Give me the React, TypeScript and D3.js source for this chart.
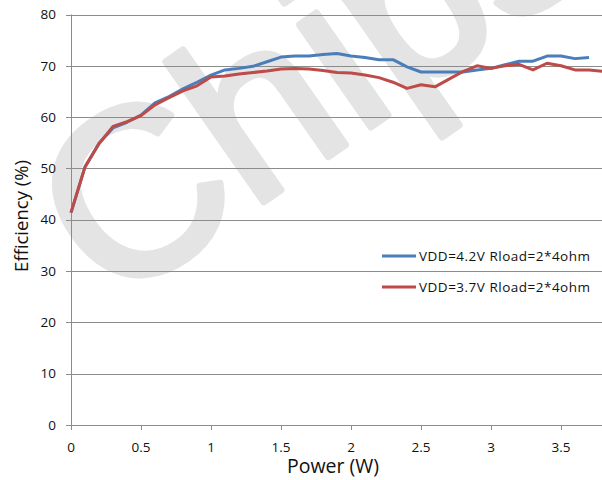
import React from "react";
import * as d3 from "d3";

const power = [0, 0.1, 0.2, 0.3, 0.4, 0.5, 0.6, 0.7, 0.8, 0.9, 1.0, 1.1, 1.2, 1.3, 1.4, 1.5, 1.6, 1.7, 1.8, 1.9, 2.0, 2.1, 2.2, 2.3, 2.4, 2.5, 2.6, 2.7, 2.8, 2.9, 3.0, 3.1, 3.2, 3.3, 3.4, 3.5, 3.6, 3.7, 3.8];

const eff42 = [41.4, 50.3, 54.9, 57.9, 59.0, 60.4, 62.8, 64.0, 65.5, 66.8, 68.2, 69.2, 69.5, 69.9, 70.8, 71.7, 71.9, 71.9, 72.2, 72.4, 71.9, 71.6, 71.2, 71.2, 69.8, 68.8, 68.8, 68.8, 68.8, 69.2, 69.5, 70.2, 70.9, 70.9, 71.9, 71.9, 71.4, 71.6];

const eff37 = [41.4, 50.3, 54.8, 58.2, 59.1, 60.3, 62.4, 63.8, 65.1, 66.1, 67.8, 68.0, 68.4, 68.7, 69.0, 69.4, 69.5, 69.4, 69.1, 68.7, 68.6, 68.2, 67.7, 66.8, 65.6, 66.3, 65.9, 67.4, 68.9, 70.0, 69.5, 70.0, 70.3, 69.2, 70.5, 70.0, 69.2, 69.2, 68.9];

const xTicks = [0, 0.5, 1, 1.5, 2, 2.5, 3, 3.5];
const yTicks = [0, 10, 20, 30, 40, 50, 60, 70, 80];

const seriesNames = ["VDD=4.2V Rload=2*4ohm", "VDD=3.7V Rload=2*4ohm"];
const seriesColors = ["#4a7ebb", "#be4b48"];

const W = 602;
const H = 480;

export default function App() {
  const x = d3.scaleLinear().domain([0, 3.8]).range([71, 603]);
  const y = d3.scaleLinear().domain([0, 80]).range([425, 14.5]);
  const font = "'Open Sans', 'Noto Sans', sans-serif";
  const grid = "#8c8c8c";

  const mk = (vals: number[]) =>
    d3
      .line<number>()
      .x((_, i) => x(power[i]))
      .y((d) => y(d))(vals) || "";

  const series = [eff42, eff37];

  return (
    <div style={{ position: "absolute", left: 0, top: 0, width: W, height: H, background: "#fff" }}>
      <svg width={W} height={H} style={{ display: "block" }}>
        <rect x={0} y={0} width={W} height={H} fill="#fff" />
        <text
          transform="translate(111,309) rotate(-35)"
          fontFamily="'Liberation Sans', Arial, sans-serif"
          fontSize={236}
          fill="#e4e4e4"
          stroke="#e4e4e4"
          strokeWidth={7}
          strokeLinejoin="round"
        >
          Chipsea
        </text>
        {yTicks.map((t) => (
          <g key={"y" + t}>
            <line x1={66} x2={W} y1={Math.round(y(t)) + 0.5} y2={Math.round(y(t)) + 0.5} stroke={grid} strokeWidth={1} />
            <text x={56} y={y(t)} dy="0.35em" textAnchor="end" fontFamily={font} fontSize={13.5} fill="#111">
              {t}
            </text>
          </g>
        ))}
        <line x1={71.5} x2={71.5} y1={y(80)} y2={y(0) + 5} stroke={grid} strokeWidth={1} />
        {xTicks.map((t) => (
          <g key={"x" + t}>
            <line x1={Math.round(x(t)) + 0.5} x2={Math.round(x(t)) + 0.5} y1={y(0)} y2={y(0) + 5} stroke={grid} strokeWidth={1} />
            <text x={x(t)} y={452} textAnchor="middle" fontFamily={font} fontSize={13.5} fill="#111">
              {t}
            </text>
          </g>
        ))}
        {series.map((s, i) => (
          <path key={"s" + i} d={mk(s)} fill="none" stroke={seriesColors[i]} strokeWidth={3} strokeLinejoin="round" />
        ))}
        {seriesNames.map((n, i) => (
          <g key={"l" + i}>
            <line x1={382} x2={416} y1={256 + i * 31} y2={256 + i * 31} stroke={seriesColors[i]} strokeWidth={3} />
            <text x={419} y={256 + i * 31} dy="0.35em" fontFamily={font} fontSize={13.5} letterSpacing={0.5} fill="#111">
              {n}
            </text>
          </g>
        ))}
        <text
          transform={`translate(28,216) rotate(-90)`}
          textAnchor="middle"
          fontFamily={font}
          fontSize={18.5}
          fill="#111"
        >
          Efficiency (%)
        </text>
        <text x={333} y={473} textAnchor="middle" fontFamily={font} fontSize={19.5} fill="#111">
          Power (W)
        </text>
      </svg>
    </div>
  );
}
